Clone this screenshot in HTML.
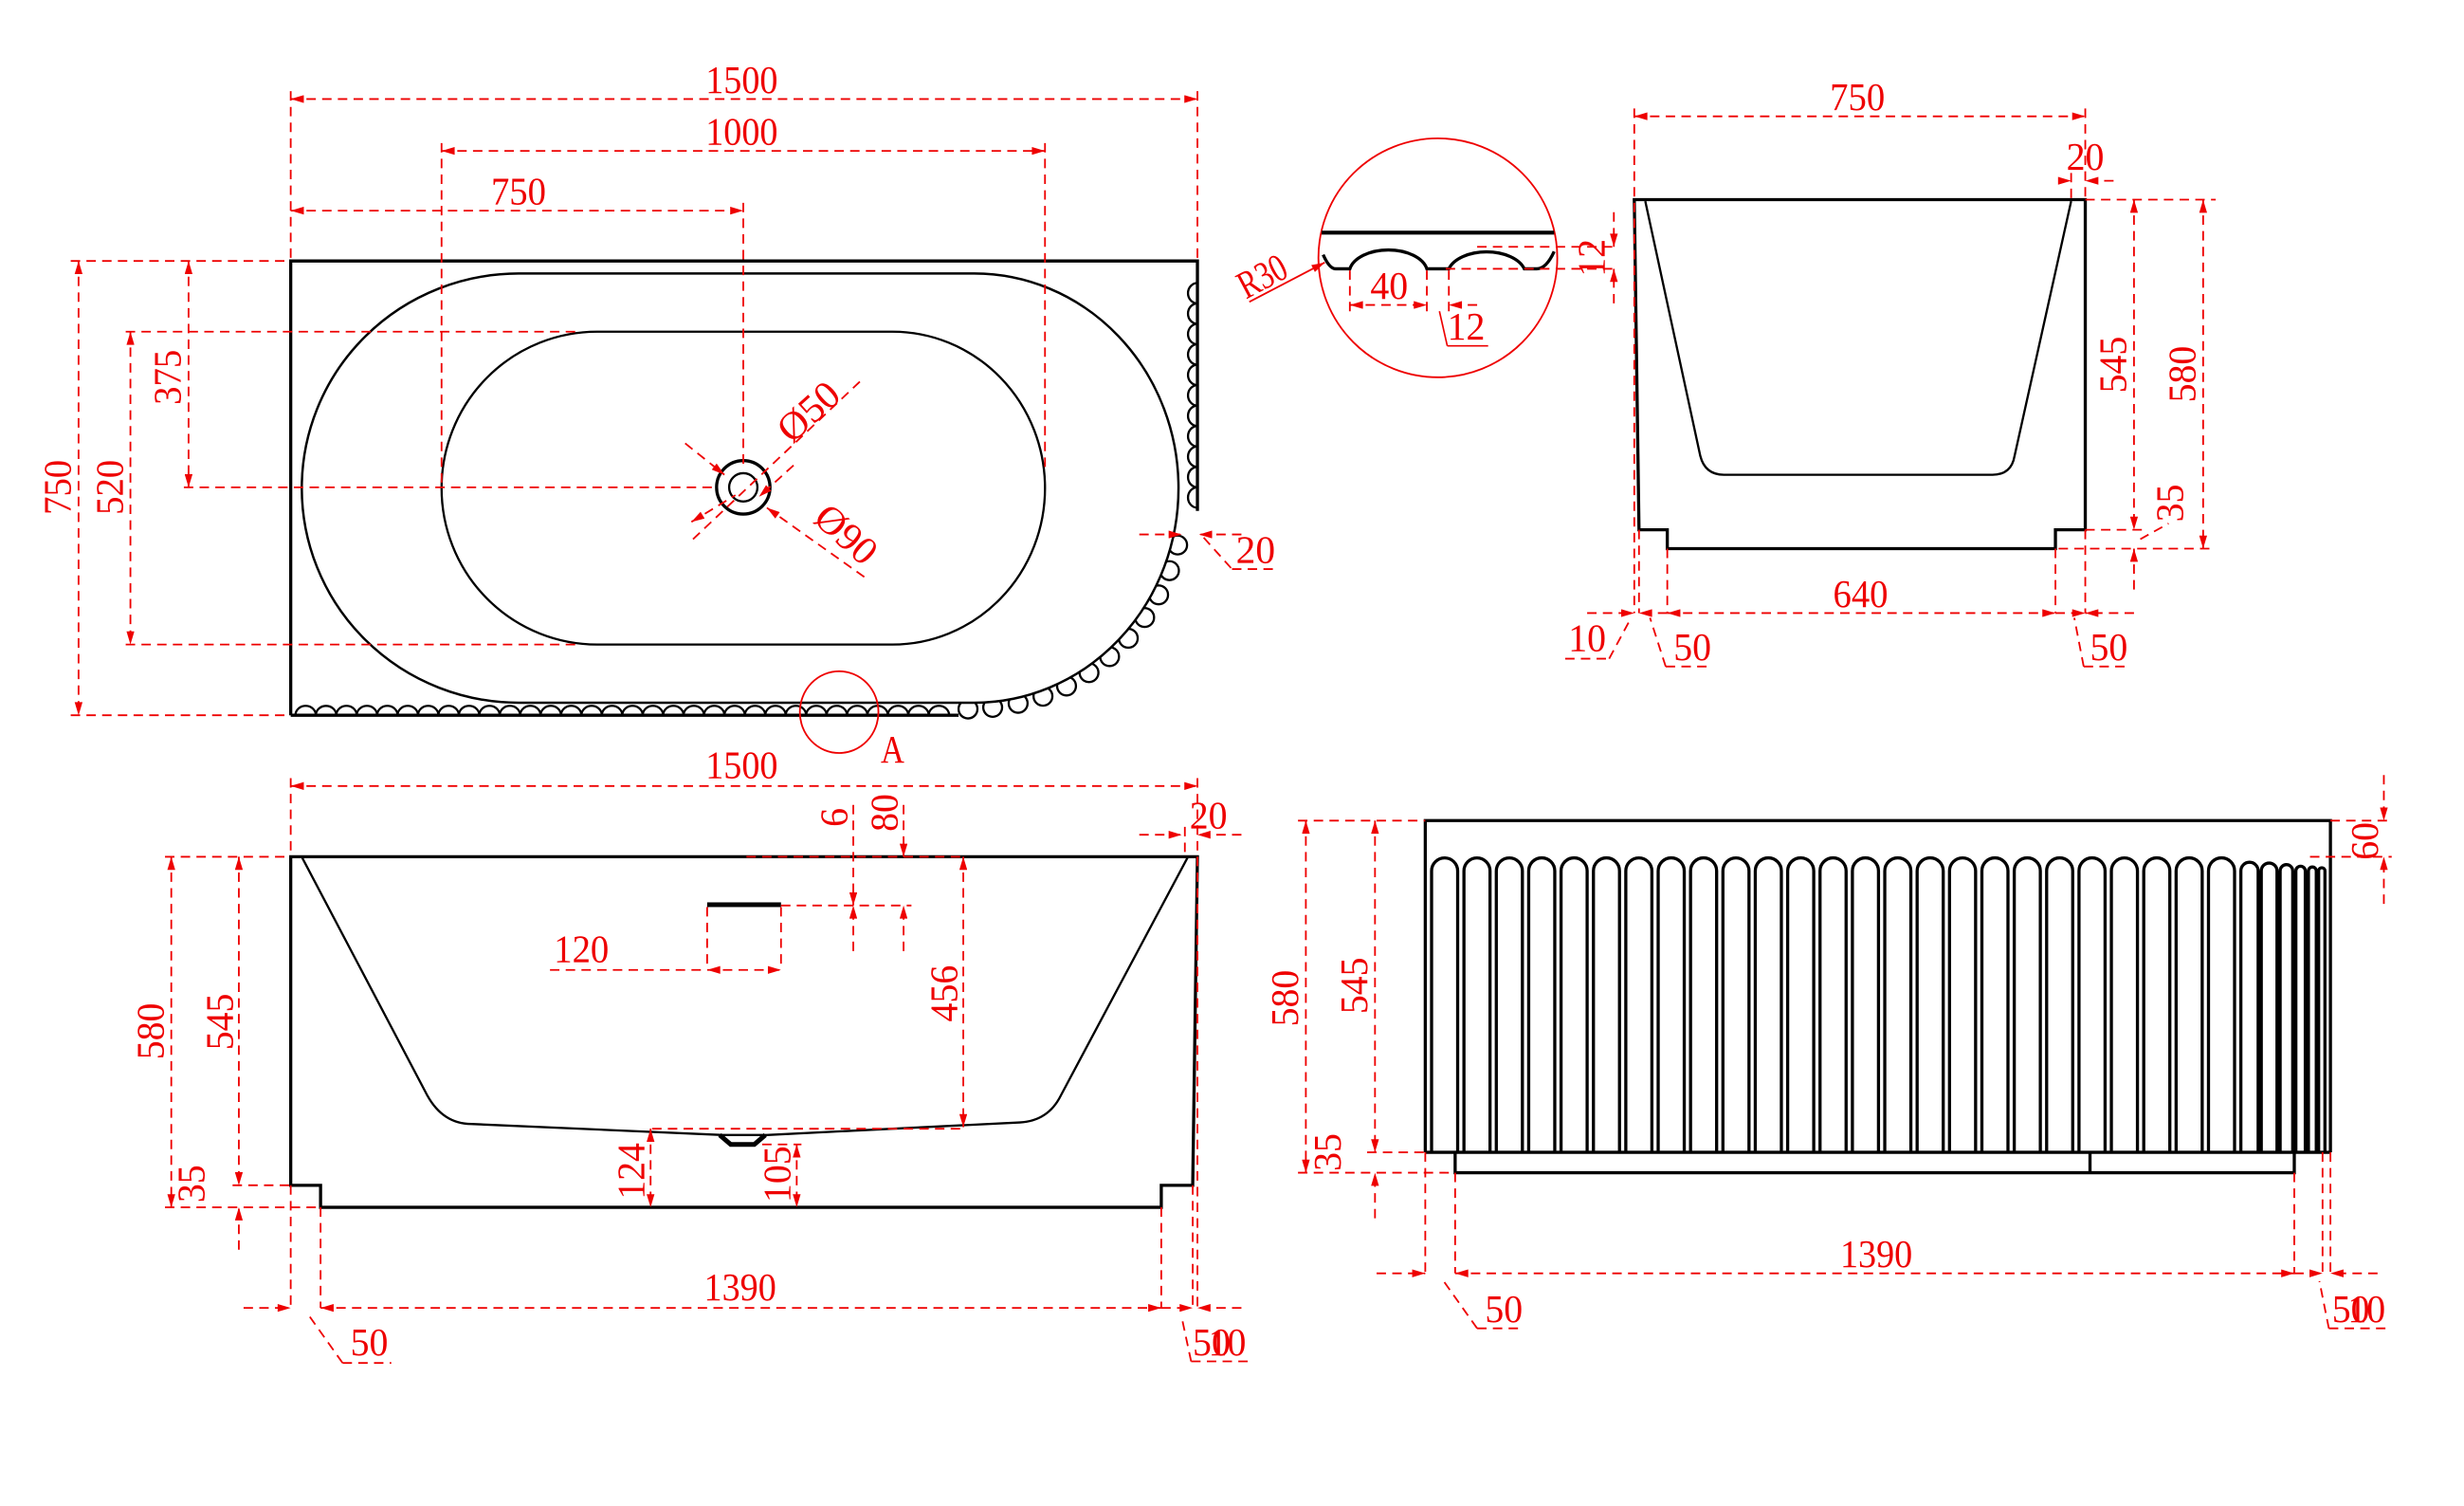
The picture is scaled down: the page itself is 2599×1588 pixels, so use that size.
<!DOCTYPE html>
<html><head><meta charset="utf-8"><style>
html,body{margin:0;padding:0;background:#fff;}
svg{display:block;}
.d{stroke:#e00;stroke-width:1.1;stroke-dasharray:6,4;fill:none;}
.da{stroke:#e00;stroke-width:1.1;stroke-dasharray:6,4;fill:none;marker-start:url(#a);marker-end:url(#a);}
.k{stroke:#000;stroke-width:2;fill:none;}
.k1{stroke:#000;stroke-width:1.4;fill:none;}
text{fill:#e00;font-family:"Liberation Serif",serif;font-size:25px;text-anchor:middle;}
</style></head><body>
<svg width="2599" height="1588" viewBox="0 0 1568 958" preserveAspectRatio="none" xmlns="http://www.w3.org/2000/svg">
<defs><marker id="a" viewBox="0 0 10 6" refX="10" refY="3" markerWidth="13" markerHeight="5" orient="auto-start-reverse" markerUnits="userSpaceOnUse"><path d="M0,0L10,3L0,6z" fill="#e00"/></marker></defs>

<!-- ===== TOP VIEW ===== -->
<g>
<g fill="#fff" stroke="#000" stroke-width="1.4">
<circle cx="749.4" cy="346.7" r="6"/><circle cx="744.2" cy="363" r="6"/><circle cx="737.3" cy="378.4" r="6"/><circle cx="728.4" cy="392.8" r="6"/><circle cx="718" cy="406" r="6"/><circle cx="706.1" cy="417.7" r="6"/><circle cx="693" cy="427.9" r="6"/><circle cx="678.7" cy="436.4" r="6"/><circle cx="663.7" cy="442.9" r="6"/><circle cx="647.9" cy="447.4" r="6"/><circle cx="631.7" cy="450" r="6"/><circle cx="616" cy="451" r="6"/>
</g>
<path d="M330,174 L620,174 A130,136.5 0 0 1 620,447 L330,447 A138,136.5 0 0 1 330,174 Z" fill="#fff" stroke="#000" stroke-width="1.5"/>
<path d="M185,455 L185,166 L762,166 L762,325" class="k"/>
<path d="M185,455 L610,455" class="k"/>
<path d="M188,455 a6.5,6 0 0 1 13,0 a6.5,6 0 0 1 13,0 a6.5,6 0 0 1 13,0 a6.5,6 0 0 1 13,0 a6.5,6 0 0 1 13,0 a6.5,6 0 0 1 13,0 a6.5,6 0 0 1 13,0 a6.5,6 0 0 1 13,0 a6.5,6 0 0 1 13,0 a6.5,6 0 0 1 13,0 a6.5,6 0 0 1 13,0 a6.5,6 0 0 1 13,0 a6.5,6 0 0 1 13,0 a6.5,6 0 0 1 13,0 a6.5,6 0 0 1 13,0 a6.5,6 0 0 1 13,0 a6.5,6 0 0 1 13,0 a6.5,6 0 0 1 13,0 a6.5,6 0 0 1 13,0 a6.5,6 0 0 1 13,0 a6.5,6 0 0 1 13,0 a6.5,6 0 0 1 13,0 a6.5,6 0 0 1 13,0 a6.5,6 0 0 1 13,0 a6.5,6 0 0 1 13,0 a6.5,6 0 0 1 13,0 a6.5,6 0 0 1 13,0 a6.5,6 0 0 1 13,0 a6.5,6 0 0 1 13,0 a6.5,6 0 0 1 13,0 a6.5,6 0 0 1 13,0 a6.5,6 0 0 1 13,0" class="k1"/>
<path d="M762,180 a6,6.5 0 0 0 0,13 a6,6.5 0 0 0 0,13 a6,6.5 0 0 0 0,13 a6,6.5 0 0 0 0,13 a6,6.5 0 0 0 0,13 a6,6.5 0 0 0 0,13 a6,6.5 0 0 0 0,13 a6,6.5 0 0 0 0,13 a6,6.5 0 0 0 0,13 a6,6.5 0 0 0 0,13 a6,6.5 0 0 0 0,13" class="k1"/>
<path d="M380,211 L568,211 A97,99.5 0 0 1 568,410 L380,410 A99,99.5 0 0 1 380,211 Z" class="k1"/>
<circle cx="473" cy="310" r="17" class="k"/><circle cx="473" cy="310" r="9" class="k1"/>
<!-- dims -->
<line x1="185" y1="63" x2="762" y2="63" class="da"/><text x="472" y="59" textLength="46" lengthAdjust="spacingAndGlyphs">1500</text>
<line x1="185" y1="58" x2="185" y2="166" class="d"/><line x1="762" y1="58" x2="762" y2="166" class="d"/>
<line x1="281" y1="96" x2="665" y2="96" class="da"/><text x="472" y="92" textLength="46" lengthAdjust="spacingAndGlyphs">1000</text>
<line x1="281" y1="91" x2="281" y2="310" class="d"/><line x1="665" y1="91" x2="665" y2="300" class="d"/>
<line x1="185" y1="134" x2="473" y2="134" class="da"/><text x="330" y="130" textLength="35" lengthAdjust="spacingAndGlyphs">750</text>
<line x1="473" y1="129" x2="473" y2="295" class="d"/>
<line x1="45" y1="166" x2="185" y2="166" class="d"/><line x1="45" y1="455" x2="185" y2="455" class="d"/>
<line x1="80" y1="211" x2="370" y2="211" class="d"/><line x1="80" y1="410" x2="370" y2="410" class="d"/>
<line x1="117" y1="310" x2="455" y2="310" class="d"/>
<line x1="50" y1="166" x2="50" y2="455" class="da"/><text transform="translate(45,310) rotate(-90)" textLength="35" lengthAdjust="spacingAndGlyphs">750</text>
<line x1="83" y1="211" x2="83" y2="410" class="da"/><text transform="translate(78,310) rotate(-90)" textLength="35" lengthAdjust="spacingAndGlyphs">520</text>
<line x1="120" y1="166" x2="120" y2="310" class="da"/><text transform="translate(115,240) rotate(-90)" textLength="35" lengthAdjust="spacingAndGlyphs">375</text>
<line x1="441" y1="343" x2="548" y2="242" class="d"/>
<line x1="436" y1="282" x2="461" y2="302" class="d" style="marker-end:url(#a)"/>
<line x1="440" y1="332" x2="468" y2="315" class="d" style="marker-start:url(#a)"/>
<line x1="505" y1="296" x2="483" y2="316" class="d" style="marker-end:url(#a)"/>
<line x1="550" y1="367" x2="488" y2="323" class="d" style="marker-end:url(#a)"/>
<text transform="translate(520,268) rotate(-42)" textLength="44" lengthAdjust="spacingAndGlyphs">Ø50</text>
<text transform="translate(533,346) rotate(42)" textLength="44" lengthAdjust="spacingAndGlyphs">Ø90</text>
<line x1="725" y1="340" x2="752" y2="340" class="d" style="marker-end:url(#a)"/><line x1="790" y1="340" x2="763" y2="340" class="d" style="marker-end:url(#a)"/>
<line x1="766" y1="342" x2="784" y2="362" class="d"/><line x1="784" y1="362" x2="814" y2="362" class="d"/>
<text x="799" y="358" textLength="25" lengthAdjust="spacingAndGlyphs">20</text>
<ellipse cx="534" cy="453" rx="25" ry="26" fill="none" stroke="#e00" stroke-width="1.1"/>
<text x="568" y="485" textLength="15" lengthAdjust="spacingAndGlyphs">A</text>
</g>

<!-- ===== DETAIL A ===== -->
<g>
<circle cx="915" cy="164" r="76" fill="none" stroke="#e00" stroke-width="1.1"/>
<line x1="841" y1="148" x2="989" y2="148" stroke="#000" stroke-width="2.5"/>
<path d="M842,162 Q846,171 850,171 L859,171 A25,15 0 0 1 908,171 L922,171 A25,15 0 0 1 970,171 L978,171 Q984,171 989,160" class="k"/>
<line x1="940" y1="157" x2="1030" y2="157" class="d"/><line x1="920" y1="171" x2="1030" y2="171" class="d"/>
<line x1="1027" y1="135" x2="1027" y2="157" class="d" style="marker-end:url(#a)"/><line x1="1027" y1="193" x2="1027" y2="171" class="d" style="marker-end:url(#a)"/>
<text transform="translate(1021,164) rotate(-90)" textLength="24" lengthAdjust="spacingAndGlyphs">12</text>
<line x1="859" y1="172" x2="859" y2="200" class="d"/><line x1="908" y1="172" x2="908" y2="200" class="d"/><line x1="922" y1="172" x2="922" y2="200" class="d"/>
<line x1="859" y1="194" x2="908" y2="194" class="da"/><text x="884" y="190" textLength="24" lengthAdjust="spacingAndGlyphs">40</text>
<line x1="940" y1="194" x2="922" y2="194" class="d" style="marker-end:url(#a)"/>
<line x1="916" y1="198" x2="921" y2="220" stroke="#e00" stroke-width="1"/><line x1="921" y1="220" x2="947" y2="220" stroke="#e00" stroke-width="1"/>
<text x="933" y="216" textLength="24" lengthAdjust="spacingAndGlyphs">12</text>
<line x1="795" y1="192" x2="843" y2="167" stroke="#e00" stroke-width="1.1" style="marker-end:url(#a)"/>
<text transform="translate(807,183) rotate(-28)" textLength="32" lengthAdjust="spacingAndGlyphs">R30</text>
</g>

<!-- ===== SIDE VIEW ===== -->
<g>
<path d="M1040,127 L1327,127 L1327,337 L1308,337 L1308,349 L1061,349 L1061,337 L1043,337 Z" class="k"/>
<path d="M1047,128 L1082,290 Q1085,302 1097,302 L1268,302 Q1280,302 1282,290 L1318,128" class="k1"/>
<line x1="1040" y1="74" x2="1327" y2="74" class="da"/><text x="1182" y="70" textLength="35" lengthAdjust="spacingAndGlyphs">750</text>
<line x1="1040" y1="69" x2="1040" y2="390" class="d"/><line x1="1327" y1="69" x2="1327" y2="127" class="d"/>
<line x1="1310" y1="115" x2="1318" y2="115" class="d" style="marker-end:url(#a)"/><line x1="1345" y1="115" x2="1327" y2="115" class="d" style="marker-end:url(#a)"/>
<line x1="1318" y1="110" x2="1318" y2="127" class="d"/>
<text x="1327" y="108" textLength="24" lengthAdjust="spacingAndGlyphs">20</text>
<line x1="1327" y1="127" x2="1410" y2="127" class="d"/><line x1="1327" y1="337" x2="1365" y2="337" class="d"/><line x1="1310" y1="349" x2="1410" y2="349" class="d"/>
<line x1="1358" y1="127" x2="1358" y2="337" class="da"/><text transform="translate(1353,232) rotate(-90)" textLength="36" lengthAdjust="spacingAndGlyphs">545</text>
<line x1="1402" y1="127" x2="1402" y2="349" class="da"/><text transform="translate(1397,238) rotate(-90)" textLength="36" lengthAdjust="spacingAndGlyphs">580</text>
<line x1="1358" y1="375" x2="1358" y2="349" class="d" style="marker-end:url(#a)"/>
<text transform="translate(1389,320) rotate(-90)" textLength="24" lengthAdjust="spacingAndGlyphs">35</text>
<line x1="1362" y1="343" x2="1380" y2="333" class="d"/>
<line x1="1043" y1="337" x2="1043" y2="390" class="d"/><line x1="1061" y1="349" x2="1061" y2="390" class="d"/>
<line x1="1308" y1="349" x2="1308" y2="390" class="d"/><line x1="1327" y1="337" x2="1327" y2="390" class="d"/>
<line x1="1061" y1="390" x2="1308" y2="390" class="da"/><text x="1184" y="386" textLength="35" lengthAdjust="spacingAndGlyphs">640</text>
<line x1="1010" y1="390" x2="1040" y2="390" class="d" style="marker-end:url(#a)"/><line x1="1061" y1="390" x2="1043" y2="390" class="d" style="marker-end:url(#a)"/>
<line x1="1308" y1="390" x2="1327" y2="390" class="d" style="marker-end:url(#a)"/><line x1="1358" y1="390" x2="1327" y2="390" class="d" style="marker-end:url(#a)"/>
<text x="1010" y="414" textLength="24" lengthAdjust="spacingAndGlyphs">10</text><line x1="996" y1="419" x2="1024" y2="419" class="d"/><line x1="1024" y1="419" x2="1038" y2="393" class="d"/>
<text x="1077" y="420" textLength="24" lengthAdjust="spacingAndGlyphs">50</text><line x1="1060" y1="424" x2="1090" y2="424" class="d"/><line x1="1060" y1="424" x2="1050" y2="393" class="d"/>
<text x="1342" y="420" textLength="24" lengthAdjust="spacingAndGlyphs">50</text><line x1="1326" y1="424" x2="1356" y2="424" class="d"/><line x1="1326" y1="424" x2="1320" y2="393" class="d"/>
</g>

<!-- ===== FRONT VIEW ===== -->
<g>
<path d="M185,545 L762,545 L759,754 L739,754 L739,768 L204,768 L204,754 L185,754 Z" class="k"/>
<path d="M192,545 L272,697 Q282,715 300,715 L460,722 L488,722 L649,714 Q667,713 675,697 L756,545" class="k1"/>
<path d="M458,722 L465,728 L480,728 L487,722" stroke="#000" stroke-width="3" fill="none"/>
<rect x="450" y="574" width="47" height="3" fill="#000"/>
<line x1="185" y1="500" x2="762" y2="500" class="da"/><text x="472" y="495" textLength="46" lengthAdjust="spacingAndGlyphs">1500</text>
<line x1="185" y1="495" x2="185" y2="545" class="d"/><line x1="762" y1="495" x2="762" y2="545" class="d"/>
<line x1="725" y1="531" x2="752" y2="531" class="d" style="marker-end:url(#a)"/><line x1="790" y1="531" x2="762" y2="531" class="d" style="marker-end:url(#a)"/>
<line x1="754" y1="526" x2="754" y2="545" class="d"/>
<text x="769" y="527" textLength="24" lengthAdjust="spacingAndGlyphs">20</text>
<line x1="475" y1="545" x2="615" y2="545" class="d"/>
<line x1="497" y1="576" x2="580" y2="576" class="d"/>
<line x1="543" y1="512" x2="543" y2="576" class="d" style="marker-end:url(#a)"/><line x1="543" y1="605" x2="543" y2="576" class="d" style="marker-end:url(#a)"/>
<line x1="575" y1="512" x2="575" y2="545" class="d" style="marker-end:url(#a)"/><line x1="575" y1="605" x2="575" y2="576" class="d" style="marker-end:url(#a)"/>
<text transform="translate(539,520) rotate(-90)" textLength="12" lengthAdjust="spacingAndGlyphs">6</text>
<text transform="translate(571,517) rotate(-90)" textLength="24" lengthAdjust="spacingAndGlyphs">80</text>
<line x1="450" y1="577" x2="450" y2="617" class="d"/><line x1="497" y1="577" x2="497" y2="617" class="d"/>
<line x1="350" y1="617" x2="450" y2="617" class="d"/><line x1="450" y1="617" x2="497" y2="617" class="da"/>
<text x="370" y="612" textLength="35" lengthAdjust="spacingAndGlyphs">120</text>
<line x1="613" y1="545" x2="613" y2="717" class="da"/><text transform="translate(609,632) rotate(-90)" textLength="36" lengthAdjust="spacingAndGlyphs">456</text>
<line x1="415" y1="718" x2="615" y2="718" class="d"/>
<line x1="414" y1="718" x2="414" y2="768" class="da"/><text transform="translate(410,745) rotate(-90)" textLength="36" lengthAdjust="spacingAndGlyphs">124</text>
<line x1="485" y1="728" x2="510" y2="728" class="d"/>
<line x1="507" y1="728" x2="507" y2="768" class="da"/><text transform="translate(503,747) rotate(-90)" textLength="36" lengthAdjust="spacingAndGlyphs">105</text>
<line x1="105" y1="545" x2="185" y2="545" class="d"/><line x1="148" y1="754" x2="185" y2="754" class="d"/><line x1="105" y1="768" x2="204" y2="768" class="d"/>
<line x1="109" y1="545" x2="109" y2="768" class="da"/><text transform="translate(104,656) rotate(-90)" textLength="36" lengthAdjust="spacingAndGlyphs">580</text>
<line x1="152" y1="545" x2="152" y2="754" class="da"/><text transform="translate(148,650) rotate(-90)" textLength="36" lengthAdjust="spacingAndGlyphs">545</text>
<line x1="152" y1="795" x2="152" y2="768" class="d" style="marker-end:url(#a)"/>
<text transform="translate(130,753) rotate(-90)" textLength="24" lengthAdjust="spacingAndGlyphs">35</text>
<line x1="185" y1="754" x2="185" y2="832" class="d"/><line x1="204" y1="768" x2="204" y2="832" class="d"/>
<line x1="739" y1="768" x2="739" y2="832" class="d"/><line x1="759" y1="754" x2="759" y2="832" class="d"/><line x1="762" y1="545" x2="762" y2="832" class="d"/>
<line x1="204" y1="832" x2="739" y2="832" class="da"/><text x="471" y="827" textLength="46" lengthAdjust="spacingAndGlyphs">1390</text>
<line x1="155" y1="832" x2="185" y2="832" class="d" style="marker-end:url(#a)"/>
<line x1="739" y1="832" x2="759" y2="832" class="d" style="marker-end:url(#a)"/><line x1="790" y1="832" x2="762" y2="832" class="d" style="marker-end:url(#a)"/>
<text x="235" y="862" textLength="24" lengthAdjust="spacingAndGlyphs">50</text><line x1="218" y1="867" x2="249" y2="867" class="d"/><line x1="218" y1="867" x2="196" y2="836" class="d"/>
<text x="771" y="862" textLength="24" lengthAdjust="spacingAndGlyphs">50</text><text x="781" y="862" textLength="24" lengthAdjust="spacingAndGlyphs">10</text>
<line x1="758" y1="866" x2="798" y2="866" class="d"/><line x1="758" y1="866" x2="752" y2="838" class="d"/>
</g>

<!-- ===== FLUTED VIEW ===== -->
<g>
<path d="M907,733 L907,522 L1483,522 L1483,733" class="k"/>
<line x1="907" y1="733" x2="1483" y2="733" class="k"/>
<path d="M926,733 L926,746 L1460,746 L1460,733 M1330,733 L1330,746" class="k"/>
<path d="M911,733 v-179a8.3,8.3 0 0 1 16.6,0v179m4,0 v-179a8.3,8.3 0 0 1 16.6,0v179m4,0 v-179a8.3,8.3 0 0 1 16.6,0v179m4,0 v-179a8.3,8.3 0 0 1 16.6,0v179m4,0 v-179a8.3,8.3 0 0 1 16.6,0v179m4,0 v-179a8.3,8.3 0 0 1 16.6,0v179m4,0 v-179a8.3,8.3 0 0 1 16.6,0v179m4,0 v-179a8.3,8.3 0 0 1 16.6,0v179m4,0 v-179a8.3,8.3 0 0 1 16.6,0v179m4,0 v-179a8.3,8.3 0 0 1 16.6,0v179m4,0 v-179a8.3,8.3 0 0 1 16.6,0v179m4,0 v-179a8.3,8.3 0 0 1 16.6,0v179m4,0 v-179a8.3,8.3 0 0 1 16.6,0v179m4,0 v-179a8.3,8.3 0 0 1 16.6,0v179m4,0 v-179a8.3,8.3 0 0 1 16.6,0v179m4,0 v-179a8.3,8.3 0 0 1 16.6,0v179m4,0 v-179a8.3,8.3 0 0 1 16.6,0v179m4,0 v-179a8.3,8.3 0 0 1 16.6,0v179m4,0 v-179a8.3,8.3 0 0 1 16.6,0v179m4,0 v-179a8.3,8.3 0 0 1 16.6,0v179m4,0 v-179a8.3,8.3 0 0 1 16.6,0v179m4,0 v-179a8.3,8.3 0 0 1 16.6,0v179m4,0 v-179a8.3,8.3 0 0 1 16.6,0v179m4,0 v-179a8.3,8.3 0 0 1 16.6,0v179m4,0 v-179a8.3,8.3 0 0 1 16.6,0v179m4,0 v-179a5.5,5.5 0 0 1 11,0v179m2,0 v-179a5,5 0 0 1 10,0v179m2,0 v-179a4,4 0 0 1 8,0v179m2,0 v-179a3,3 0 0 1 6,0v179m2,0 v-179a2.5,2.5 0 0 1 5,0v179m1.5,0 v-179a2,2 0 0 1 4,0v179" stroke="#000" stroke-width="2" fill="none"/>
<line x1="826" y1="522" x2="907" y2="522" class="d"/><line x1="870" y1="733" x2="907" y2="733" class="d"/><line x1="826" y1="746" x2="926" y2="746" class="d"/>
<line x1="831" y1="522" x2="831" y2="746" class="da"/><text transform="translate(826,635) rotate(-90)" textLength="36" lengthAdjust="spacingAndGlyphs">580</text>
<line x1="875" y1="522" x2="875" y2="733" class="da"/><text transform="translate(870,627) rotate(-90)" textLength="36" lengthAdjust="spacingAndGlyphs">545</text>
<line x1="875" y1="775" x2="875" y2="746" class="d" style="marker-end:url(#a)"/>
<text transform="translate(853,733) rotate(-90)" textLength="24" lengthAdjust="spacingAndGlyphs">35</text>
<line x1="1483" y1="522" x2="1522" y2="522" class="d"/><line x1="1470" y1="545" x2="1522" y2="545" class="d"/>
<line x1="1517" y1="493" x2="1517" y2="522" class="d" style="marker-end:url(#a)"/><line x1="1517" y1="575" x2="1517" y2="545" class="d" style="marker-end:url(#a)"/>
<text transform="translate(1513,535) rotate(-90)" textLength="24" lengthAdjust="spacingAndGlyphs">60</text>
<line x1="907" y1="733" x2="907" y2="810" class="d"/><line x1="926" y1="746" x2="926" y2="810" class="d"/>
<line x1="1460" y1="746" x2="1460" y2="810" class="d"/><line x1="1478" y1="733" x2="1478" y2="810" class="d"/><line x1="1483" y1="733" x2="1483" y2="810" class="d"/>
<line x1="926" y1="810" x2="1460" y2="810" class="da"/><text x="1194" y="806" textLength="46" lengthAdjust="spacingAndGlyphs">1390</text>
<line x1="876" y1="810" x2="907" y2="810" class="d" style="marker-end:url(#a)"/>
<line x1="1460" y1="810" x2="1478" y2="810" class="d" style="marker-end:url(#a)"/><line x1="1513" y1="810" x2="1483" y2="810" class="d" style="marker-end:url(#a)"/>
<text x="957" y="841" textLength="24" lengthAdjust="spacingAndGlyphs">50</text><line x1="940" y1="845" x2="970" y2="845" class="d"/><line x1="940" y1="845" x2="918" y2="814" class="d"/>
<text x="1496" y="841" textLength="24" lengthAdjust="spacingAndGlyphs">50</text><text x="1506" y="841" textLength="24" lengthAdjust="spacingAndGlyphs">10</text>
<line x1="1482" y1="845" x2="1518" y2="845" class="d"/><line x1="1482" y1="845" x2="1476" y2="815" class="d"/>
</g>
</svg>
</body></html>
